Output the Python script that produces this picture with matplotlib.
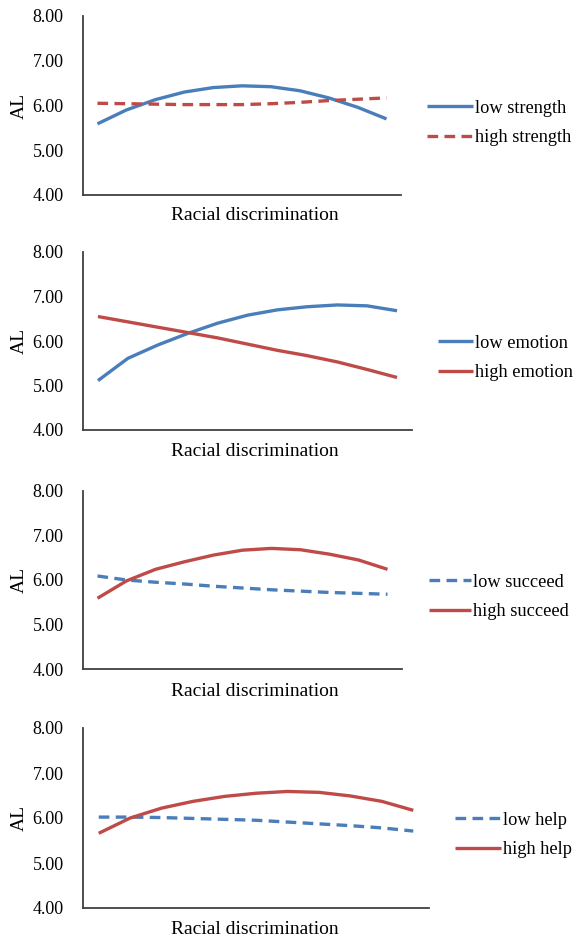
import numpy as np
import matplotlib
matplotlib.use("Agg")
import matplotlib.pyplot as plt

plt.rcParams["font.family"] = ["Liberation Serif", "DejaVu Serif"]

BLUE = "#4a7ebb"
RED = "#be4b48"

# 11 evenly spaced points along "Racial discrimination" (low -> high)
x_pts = np.arange(11)

low_strength = [5.59, 5.90, 6.13, 6.30, 6.40, 6.44, 6.42, 6.33, 6.17, 5.96, 5.70]
high_strength = [6.05, 6.04, 6.03, 6.02, 6.02, 6.02, 6.04, 6.07, 6.11, 6.14, 6.17]

low_emotion = [5.11, 5.61, 5.91, 6.17, 6.40, 6.58, 6.70, 6.77, 6.81, 6.79, 6.68]
high_emotion = [6.55, 6.43, 6.31, 6.19, 6.07, 5.93, 5.79, 5.67, 5.53, 5.36, 5.18]

low_succeed = [6.09, 6.00, 5.95, 5.91, 5.86, 5.82, 5.78, 5.75, 5.72, 5.70, 5.68]
high_succeed = [5.59, 5.98, 6.24, 6.41, 6.56, 6.67, 6.71, 6.68, 6.58, 6.45, 6.24]

low_help = [6.02, 6.02, 6.01, 5.99, 5.97, 5.95, 5.91, 5.87, 5.83, 5.78, 5.71]
high_help = [5.66, 6.00, 6.22, 6.37, 6.48, 6.55, 6.59, 6.57, 6.49, 6.37, 6.17]

y_ticks = [4, 5, 6, 7, 8]

W, H = 578, 940
fig = plt.figure(figsize=(W / 100, H / 100), dpi=100)

# box px (top, bottom, right), legend px (x, y, handle length), xlabel y px
panels = [
    (low_strength, high_strength, ("low strength", "high strength"),
     (BLUE, "-"), (RED, "--"), (16, 195, 401), (427, 123, 2.5), 216),
    (low_emotion, high_emotion, ("low emotion", "high emotion"),
     (BLUE, "-"), (RED, "-"), (252, 430, 412), (438, 358, 1.9), 452),
    (low_succeed, high_succeed, ("low succeed", "high succeed"),
     (BLUE, "--"), (RED, "-"), (491, 669, 402), (429, 597, 2.3), 691),
    (low_help, high_help, ("low help", "high help"),
     (BLUE, "--"), (RED, "-"), (728, 908, 429), (455, 835, 2.5), 929),
]

for lo, hi, labels, s_lo, s_hi, box, leg, xl_y in panels:
    top, bot, right = box
    left = 83
    ax = fig.add_axes([left / W, 1 - bot / H, (right - left) / W, (bot - top) / H])
    for vals, (c, ls), lab in ((lo, s_lo, labels[0]), (hi, s_hi, labels[1])):
        line, = ax.plot(x_pts, vals, color=c, lw=2.4, ls=ls, label=lab,
                        solid_capstyle="butt", dash_capstyle="butt")
        if ls == "--":
            line.set_dashes((3.2, 1.9))
    ax.set_xlim(-0.5, 10.5)
    ax.set_ylim(4, 8)
    ax.set_yticks(y_ticks)
    ax.set_yticklabels([f"{v:.2f}" for v in y_ticks], fontsize=13)
    ax.set_xticks([])
    ax.tick_params(axis="y", length=0, pad=14)
    for sp in ("top", "right"):
        ax.spines[sp].set_visible(False)
    for sp in ("left", "bottom"):
        ax.spines[sp].set_color("#404040")
        ax.spines[sp].set_linewidth(1.3)
    ax.set_ylabel("AL", fontsize=14, labelpad=3)
    fig.text(255 / W, 1 - xl_y / H, "Racial discrimination", fontsize=14,
             ha="center", va="center")
    ax.legend(loc="center left", bbox_to_anchor=(leg[0] / W, 1 - leg[1] / H),
              bbox_transform=fig.transFigure, frameon=False, fontsize=13.2,
              handlelength=leg[2], handletextpad=0.1, borderpad=0,
              borderaxespad=0, labelspacing=0.7)

fig.savefig("out.png", dpi=100)
